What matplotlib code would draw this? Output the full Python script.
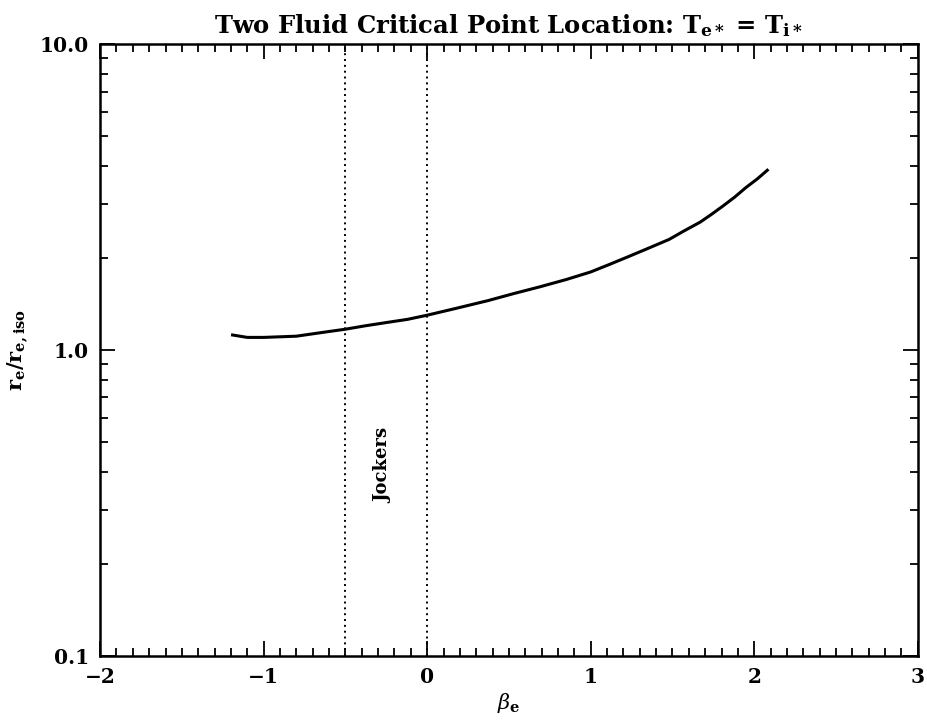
import matplotlib
matplotlib.use('Agg')
import matplotlib.pyplot as plt
import numpy as np
from matplotlib.ticker import LogLocator, MultipleLocator, FixedLocator, FixedFormatter

# curve
beta_e = [-1.19, -1.1, -1.0, -0.8, -0.65, -0.5, -0.38, -0.25, -0.12, 0.0, 0.18, 0.37,
          0.53, 0.69, 0.85, 1.0, 1.12, 1.24, 1.36, 1.48, 1.57, 1.67, 1.74, 1.81,
          1.88, 1.95, 2.02, 2.08]
r_ratio = [1.12, 1.10, 1.10, 1.11, 1.14, 1.17, 1.20, 1.23, 1.26, 1.30, 1.37, 1.45,
           1.53, 1.61, 1.70, 1.80, 1.91, 2.03, 2.16, 2.30, 2.45, 2.62, 2.78, 2.96,
           3.16, 3.40, 3.63, 3.87]

jockers_lines = [-0.5, 0.0]
y_ticks = [0.1, 1.0, 10.0]
y_tick_labels = ['0.1', '1.0', '10.0']
x_ticks = [-2, -1, 0, 1, 2, 3]

plt.rcParams['font.family'] = ['DejaVu Serif']
plt.rcParams['mathtext.fontset'] = 'dejavuserif'

fig = plt.figure(figsize=(9.27, 7.22), dpi=100)
ax = fig.add_axes([0.108, 0.0914, 0.882, 0.8475])

ax.plot(beta_e, r_ratio, color='black', lw=2.2)
for xv in jockers_lines:
    ax.axvline(xv, color='black', ls=(0, (1, 2)), lw=1.4)

ax.text(-0.27, 0.42, 'Jockers', rotation=90, ha='center', va='center',
        fontsize=13, fontweight='bold')

ax.set_yscale('log')
ax.set_xlim(-2, 3)
ax.set_ylim(0.1, 10)

ax.xaxis.set_major_locator(FixedLocator(x_ticks))
ax.xaxis.set_minor_locator(MultipleLocator(0.1))
ax.set_xticklabels(['\u22122', '\u22121', '0', '1', '2', '3'])
ax.yaxis.set_major_locator(FixedLocator(y_ticks))
ax.yaxis.set_major_formatter(FixedFormatter(y_tick_labels))
ax.yaxis.set_minor_locator(LogLocator(base=10, subs=np.arange(2, 10)))
ax.yaxis.set_minor_formatter(plt.NullFormatter())

ax.tick_params(which='both', direction='in', top=True, right=True, width=1.3)
ax.tick_params(which='major', length=11, labelsize=14.5, pad=8)
ax.tick_params(which='minor', length=6)
for lab in ax.get_xticklabels() + ax.get_yticklabels():
    lab.set_fontweight('bold')
for sp in ax.spines.values():
    sp.set_linewidth(1.8)

ax.set_xlabel(r'$\mathit{\beta}_{\mathbf{e}}$', fontsize=15, fontweight='bold', labelpad=3)
ax.set_ylabel(r'$\mathbf{r}_{\mathbf{e}}\mathbf{/r}_{\mathbf{e,iso}}$', fontsize=15, labelpad=6)
ax.set_title(r'Two Fluid Critical Point Location: T$_{\mathbf{e*}}$ = T$_{\mathbf{i*}}$',
             fontsize=17.5, fontweight='bold', pad=8)

fig.savefig('out.png', dpi=100)
